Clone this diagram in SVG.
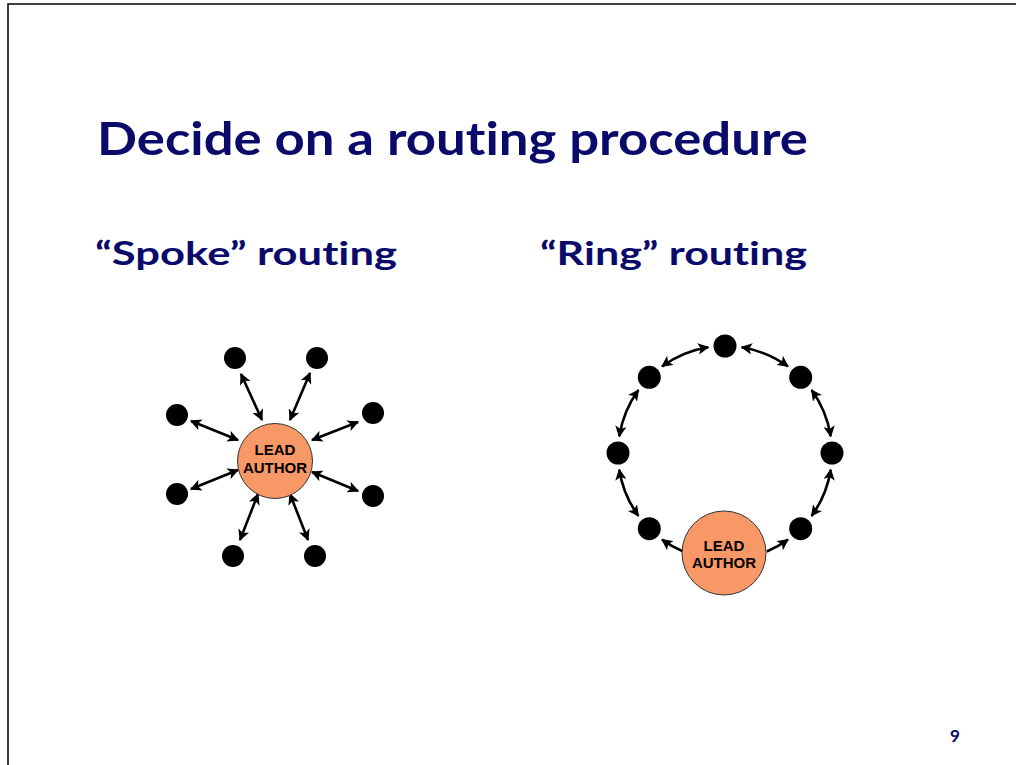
<svg xmlns="http://www.w3.org/2000/svg" width="1016" height="765" viewBox="0 0 1016 765">
<style>
.title{font-family:Lato,"Open Sans",sans-serif;font-weight:bold;fill:#0A0A6B;font-variant-ligatures:none;font-feature-settings:"liga" 0,"clig" 0,"dlig" 0}
.lbl{font-family:"Liberation Sans",Arial,sans-serif;font-weight:bold;font-size:15px;fill:#000;text-anchor:middle}
.lead{fill:#F79866;stroke:#333;stroke-width:1}
.dot{fill:#000}
.arr{fill:none;stroke:#000;stroke-width:2.6}
</style>
<defs>
<marker id="ah" viewBox="0 0 10 10" refX="9" refY="5" markerWidth="4.4" markerHeight="4.4" orient="auto-start-reverse" markerUnits="strokeWidth">
<path d="M0,0 L10,5 L0,10 L2.5,5 z" fill="#000"/>
</marker>
</defs>
<rect x="0" y="0" width="1016" height="765" fill="#fff"/>
<rect x="8" y="4" width="1030" height="800" fill="none" stroke="#000" stroke-width="1.5"/>
<text class="title" x="97" y="155" font-size="46" textLength="711" lengthAdjust="spacingAndGlyphs">Decide on a routing procedure</text>
<text class="title" x="95" y="265" font-size="33" textLength="302" lengthAdjust="spacingAndGlyphs">“Spoke” routing</text>
<text class="title" x="540" y="265" font-size="33" textLength="267" lengthAdjust="spacingAndGlyphs">“Ring” routing</text>
<text class="title" x="950" y="742" font-size="17">9</text>

<g id="connectors">
<g id="spoke-connectors">
<line class="arr" x1="241" y1="374" x2="262" y2="420" marker-start="url(#ah)" marker-end="url(#ah)"/>
<line class="arr" x1="310" y1="373" x2="290" y2="420" marker-start="url(#ah)" marker-end="url(#ah)"/>
<line class="arr" x1="191" y1="421" x2="238" y2="440" marker-start="url(#ah)" marker-end="url(#ah)"/>
<line class="arr" x1="358" y1="422" x2="312" y2="440" marker-start="url(#ah)" marker-end="url(#ah)"/>
<line class="arr" x1="191" y1="489" x2="238" y2="470" marker-start="url(#ah)" marker-end="url(#ah)"/>
<line class="arr" x1="358" y1="491" x2="312" y2="472" marker-start="url(#ah)" marker-end="url(#ah)"/>
<line class="arr" x1="240" y1="540" x2="258" y2="494" marker-start="url(#ah)" marker-end="url(#ah)"/>
<line class="arr" x1="308" y1="540" x2="290" y2="494" marker-start="url(#ah)" marker-end="url(#ah)"/>
</g>
<g id="ring-connectors">
<path class="arr" d="M662.1,366.4 A107,107 0 0 1 708.3,347.3" marker-start="url(#ah)" marker-end="url(#ah)"/>
<path class="arr" d="M619.3,436.3 A107,107 0 0 1 638.4,390.1" marker-start="url(#ah)" marker-end="url(#ah)"/>
<path class="arr" d="M638.4,515.9 A107,107 0 0 1 619.3,469.7" marker-start="url(#ah)" marker-end="url(#ah)"/>
<path class="arr" d="M741.7,347.3 A107,107 0 0 1 787.9,366.4" marker-start="url(#ah)" marker-end="url(#ah)"/>
<path class="arr" d="M811.6,390.1 A107,107 0 0 1 830.7,436.3" marker-start="url(#ah)" marker-end="url(#ah)"/>
<path class="arr" d="M830.7,469.7 A107,107 0 0 1 811.6,515.9" marker-start="url(#ah)" marker-end="url(#ah)"/>
<path class="arr" d="M683.2,551.5 A107,107 0 0 1 662.1,539.6" marker-end="url(#ah)"/>
<path class="arr" d="M766.8,551.5 A107,107 0 0 0 787.9,539.6" marker-end="url(#ah)"/>
</g>
</g>

<g id="spoke-lead"><circle class="lead" cx="275" cy="461" r="37.5"/><text class="lbl" x="275" y="455">LEAD</text><text class="lbl" x="275" y="473">AUTHOR</text></g>
<g id="spoke-n1"><circle class="dot" cx="235" cy="358" r="11"/></g>
<g id="spoke-n2"><circle class="dot" cx="317" cy="358" r="11"/></g>
<g id="spoke-n3"><circle class="dot" cx="177" cy="415" r="11"/></g>
<g id="spoke-n4"><circle class="dot" cx="373" cy="413" r="11"/></g>
<g id="spoke-n5"><circle class="dot" cx="177" cy="494" r="11"/></g>
<g id="spoke-n6"><circle class="dot" cx="373" cy="496" r="11"/></g>
<g id="spoke-n7"><circle class="dot" cx="233" cy="556" r="11"/></g>
<g id="spoke-n8"><circle class="dot" cx="315" cy="556" r="11"/></g>

<g id="ring-lead"><circle class="lead" cx="724" cy="553" r="42"/><text class="lbl" x="724" y="551">LEAD</text><text class="lbl" x="724" y="568">AUTHOR</text></g>
<g id="ring-n1"><circle class="dot" cx="725" cy="346" r="11.5"/></g>
<g id="ring-n2"><circle class="dot" cx="649.3" cy="377.3" r="11.5"/></g>
<g id="ring-n3"><circle class="dot" cx="800.7" cy="377.3" r="11.5"/></g>
<g id="ring-n4"><circle class="dot" cx="618" cy="453" r="11.5"/></g>
<g id="ring-n5"><circle class="dot" cx="832" cy="453" r="11.5"/></g>
<g id="ring-n6"><circle class="dot" cx="649.3" cy="528.7" r="11.5"/></g>
<g id="ring-n7"><circle class="dot" cx="800.7" cy="528.7" r="11.5"/></g>
</svg>
